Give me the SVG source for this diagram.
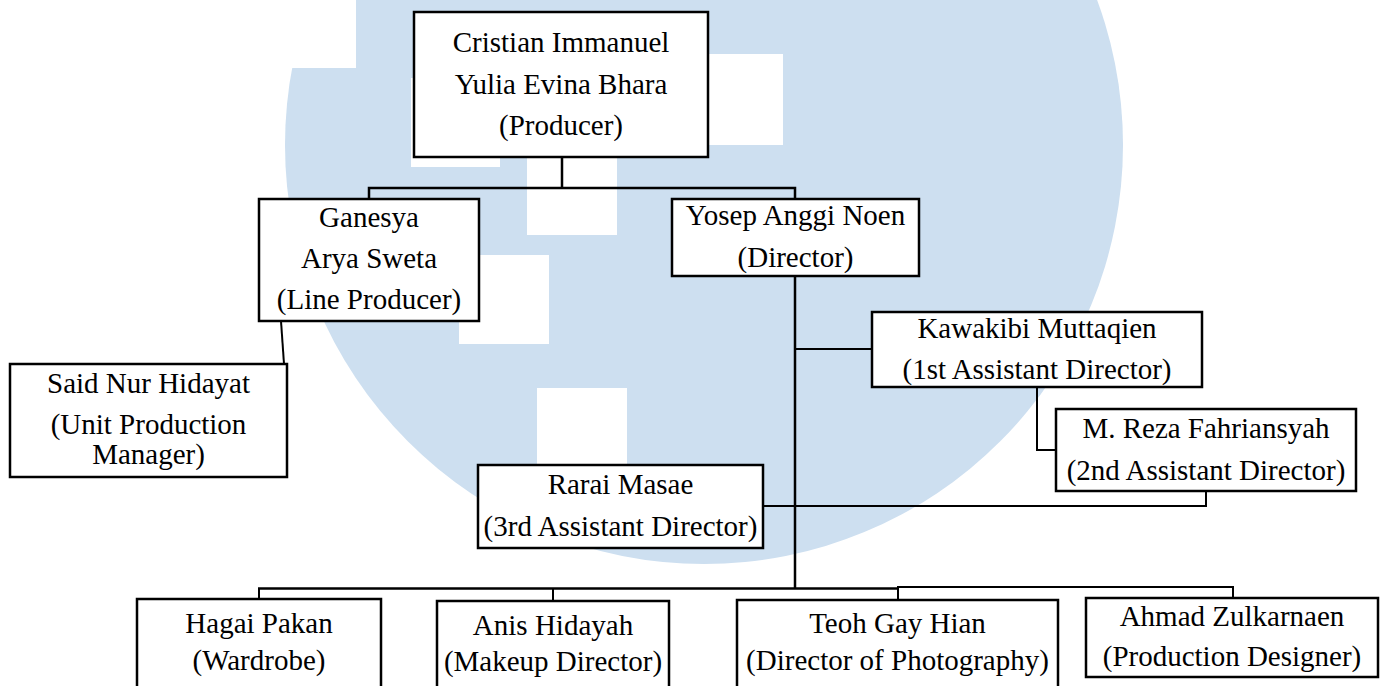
<svg xmlns="http://www.w3.org/2000/svg" width="1384" height="686" viewBox="0 0 1384 686">
<style>
.box{fill:#fff;stroke:#000;stroke-width:2.5}
.t{font-family:"Liberation Serif","Times New Roman",serif;font-size:29px;fill:#000;text-anchor:middle}
.c{fill:none;stroke:#000;stroke-width:2.5}
.c2{fill:none;stroke:#000;stroke-width:2}
</style>
<rect width="1384" height="686" fill="#fff"/>
<g id="watermark">
<circle cx="704" cy="145" r="419" fill="#cddff0"/>
<rect x="270" y="0" width="86" height="68" fill="#fff"/>
<rect x="411" y="78" width="89" height="89" fill="#fff"/>
<rect x="527" y="100" width="90" height="135" fill="#fff"/>
<rect x="640" y="54" width="143" height="91" fill="#fff"/>
<rect x="459" y="255" width="90" height="89" fill="#fff"/>
<rect x="537" y="388" width="90" height="90" fill="#fff"/>
</g>
<g id="connectors">
<path class="c" d="M562 157V188M369 199V188H795V199"/>
<path class="c2" d="M281 321L284 364"/>
<path class="c" d="M795 276V588"/>
<path class="c2" d="M795 349H872"/>
<path class="c2" d="M1037 387V450H1056"/>
<path class="c2" d="M1206 491V506H763"/>
<path class="c2" d="M259 599V588M897 587H1233V598M553 588V601M898 588V600"/>
<path class="c" d="M258 588.5H898" stroke-width="3.5"/>
</g>
<g id="producer"><rect class="box" x="414" y="12" width="294" height="145"/>
<text class="t" x="561" y="52">Cristian Immanuel</text><text class="t" x="561" y="93.5">Yulia Evina Bhara</text><text class="t" x="561" y="135">(Producer)</text></g>
<g id="line-producer"><rect class="box" x="259" y="199" width="220" height="122"/>
<text class="t" x="369" y="227">Ganesya</text><text class="t" x="369" y="268">Arya Sweta</text><text class="t" x="369" y="309">(Line Producer)</text></g>
<g id="director"><rect class="box" x="672" y="199" width="247" height="77"/>
<text class="t" x="795.5" y="225">Yosep Anggi Noen</text><text class="t" x="795.5" y="267">(Director)</text></g>
<g id="upm"><rect class="box" x="10" y="364" width="277" height="113"/>
<text class="t" x="148.5" y="393">Said Nur Hidayat</text><text class="t" x="148.5" y="434">(Unit Production</text><text class="t" x="148.5" y="464">Manager)</text></g>
<g id="ad1"><rect class="box" x="872" y="312" width="330" height="75"/>
<text class="t" x="1037" y="338">Kawakibi Muttaqien</text><text class="t" x="1037" y="379">(1st Assistant Director)</text></g>
<g id="ad2"><rect class="box" x="1056" y="409" width="300" height="82"/>
<text class="t" x="1206" y="438">M. Reza Fahriansyah</text><text class="t" x="1206" y="480">(2nd Assistant Director)</text></g>
<g id="ad3"><rect class="box" x="478" y="465" width="285" height="83"/>
<text class="t" x="620.5" y="494">Rarai Masae</text><text class="t" x="620.5" y="536">(3rd Assistant Director)</text></g>
<g id="wardrobe"><rect class="box" x="137" y="599" width="244" height="110"/>
<text class="t" x="259" y="633">Hagai Pakan</text><text class="t" x="259" y="670">(Wardrobe)</text></g>
<g id="makeup"><rect class="box" x="437" y="601" width="232" height="110"/>
<text class="t" x="553" y="635">Anis Hidayah</text><text class="t" x="553" y="671">(Makeup Director)</text></g>
<g id="dop"><rect class="box" x="737" y="600" width="321" height="110"/>
<text class="t" x="897.5" y="633">Teoh Gay Hian</text><text class="t" x="897.5" y="670">(Director of Photography)</text></g>
<g id="pd"><rect class="box" x="1086" y="598" width="292" height="79"/>
<text class="t" x="1232" y="626">Ahmad Zulkarnaen</text><text class="t" x="1232" y="666">(Production Designer)</text></g>
</svg>
